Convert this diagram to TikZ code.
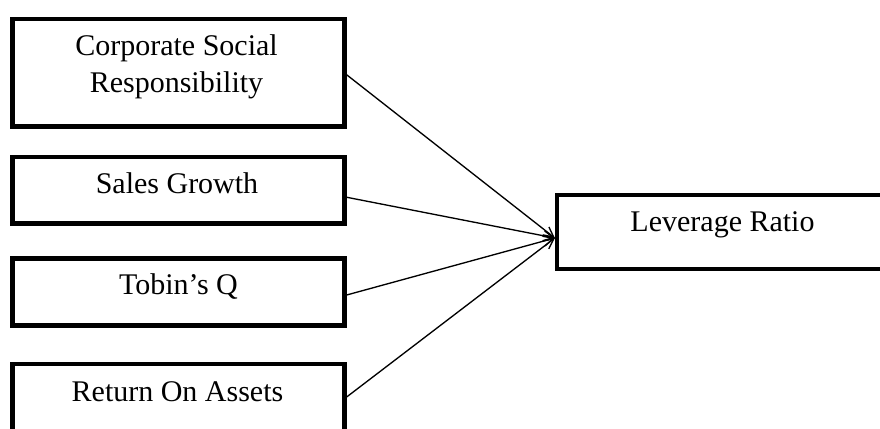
\documentclass[tikz,border=0pt]{standalone}
\usepackage{fontspec}
\setmainfont{Liberation Serif}
\usetikzlibrary{arrows.meta,calc}
\begin{document}
\begin{tikzpicture}[x=0.75pt,y=-0.75pt,
  box/.style={draw=black,line width=3.2pt,fill=white,inner sep=0pt,minimum width=249pt},
  lbl/.style={font=\fontsize{22.5}{27.75}\selectfont,inner sep=0pt,align=center,text=black},
  conn/.style={line width=1pt,draw=black,-{Straight Barb[length=7.5pt,width=7.5pt,line width=1pt]}}]
\useasboundingbox (0,0) rectangle (880,428);
\clip (0,0) rectangle (880,428);
\fill[white] (0,0) rectangle (880,428);
% boxes
\node[box,minimum height=80.6pt] (csr) at (178.5,72.75) {};
\node[box,minimum height=49.9pt] (sg) at (178.5,190.25) {};
\node[box,minimum height=50.25pt] (tq) at (178.5,292) {};
\node[box,minimum height=57pt] (roa) at (178.5,402) {};
\node[box,minimum width=261pt,minimum height=55.5pt] (lev) at (731,232) {};
% texts
\node[lbl,anchor=north] (csrt) at (176.5,34) {Corporate Social\\Responsibility};
\node[lbl,anchor=base] (sgt) at (177,193) {Sales Growth};
\node[lbl,anchor=base] (tqt) at (178.5,294) {Tobin’s Q};
\node[lbl,anchor=base] (roat) at (177.5,401) {Return On Assets};
\node[lbl,anchor=base] (levt) at (722.5,231) {Leverage Ratio};
% connectors
\coordinate (tip) at ($(lev.west)+(0,6)$);
\draw[conn] ($(csr.east)+(0,2)$) -- (tip);
\draw[conn] ($(sg.east)+(0,7)$) -- (tip);
\draw[conn] ($(tq.east)+(0,3)$) -- (tip);
\draw[conn] ($(roa.east)+(0,-5)$) -- (tip);
\end{tikzpicture}
\end{document}
